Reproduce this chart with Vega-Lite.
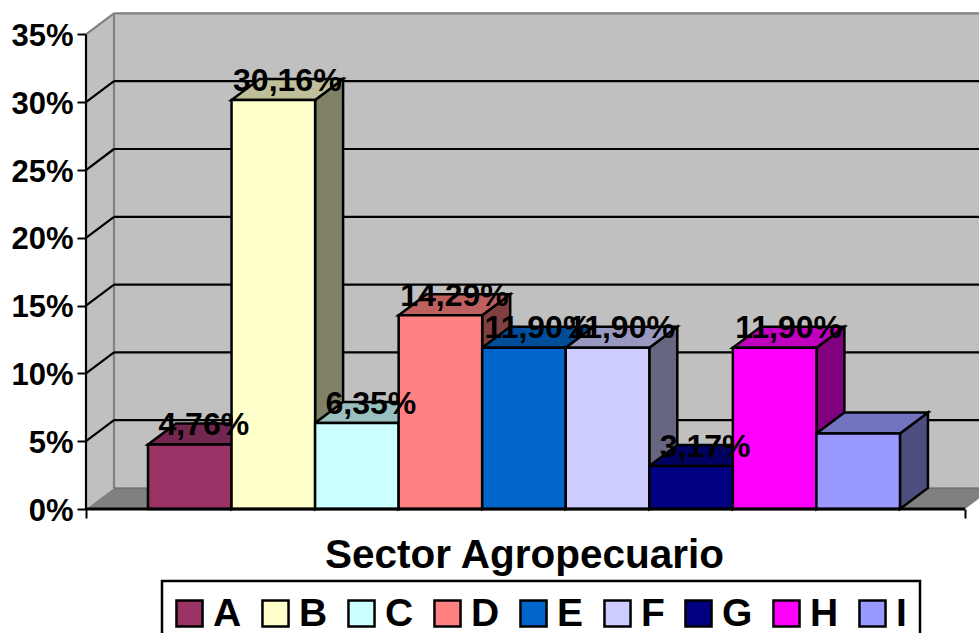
{
"$schema":"https://vega.github.io/schema/vega-lite/v6.json",
"width":893,"height":496,
"autosize":{"type":"none"},
"padding":{"left":86,"top":13,"right":0,"bottom":124},
"background":"white",
"config":{"view":{"stroke":null},"font":"Liberation Sans"},
"datasets":{
"bars":[
{"sector":"A","value":4.76,"label":"4,76%"},
{"sector":"B","value":30.16,"label":"30,16%"},
{"sector":"C","value":6.35,"label":"6,35%"},
{"sector":"D","value":14.29,"label":"14,29%"},
{"sector":"E","value":11.9,"label":"11,90%"},
{"sector":"F","value":11.9,"label":"11,90%"},
{"sector":"G","value":3.17,"label":"3,17%"},
{"sector":"H","value":11.9,"label":"11,90%"},
{"sector":"I","value":5.56,"label":""}
],
"grid":[{"v":5},{"v":10},{"v":15},{"v":20},{"v":25},{"v":30}],
"frame":[{"v":35}],
"base":[{"v":0}],
"ends":[{"d":0},{"d":1}]
},
"encoding":{
"x":{"field":"x","type":"quantitative","scale":{"domain":[-0.742,9.946],"nice":false,"zero":false},
"axis":{"values":[-0.742,9.78],"labels":false,"domain":false,"grid":false,"tickColor":"black","tickWidth":2,"tickSize":9,
"title":"Sector Agropecuario","titleFont":"Liberation Sans","titleFontSize":40.5,"titleFontWeight":"bold","titleColor":"black","titleX":438,"titleY":58,"titleBaseline":"alphabetic","titleAlign":"center"}},
"y":{"field":"y","type":"quantitative","stack":false,"scale":{"domain":[0,36.58],"nice":false,"zero":false},
"axis":{"values":[0,5,10,15,20,25,30,35],"labelExpr":"datum.value + '%'","domain":false,"grid":false,"tickColor":"black","tickWidth":2,"tickSize":9,"labelPadding":4,"labelOffset":2,
"labelFont":"Liberation Sans","labelFontSize":31,"labelFontWeight":"bold","labelColor":"black","title":null}}
},
"layer":[
{"data":{"name":"frame"},
"transform":[{"calculate":"-0.742+0.335","as":"x"},{"calculate":"9.946","as":"x2"},{"calculate":"1.55","as":"y"},{"calculate":"datum.v+1.55","as":"y2"}],
"mark":{"type":"rect","fill":"#C0C0C0"},
"encoding":{"x2":{"field":"x2"},"y2":{"field":"y2"}}},
{"data":{"name":"ends"},
"transform":[{"calculate":"-0.742+datum.d*0.335","as":"x"},{"calculate":"35+datum.d*1.55","as":"y"},{"calculate":"datum.d*1.55","as":"y2"}],
"mark":{"type":"area","orient":"vertical","fill":"#C0C0C0"},
"encoding":{"y2":{"field":"y2"}}},
{"data":{"name":"base"},
"transform":[{"calculate":"[0,1,2,3]","as":"k"},{"flatten":["k"]},
{"calculate":"[-0.742,-0.407,9.78,10.115][datum.k]","as":"x"},
{"calculate":"datum.k==0?0:1.55","as":"y"},{"calculate":"datum.k==3?1.55:0","as":"y2"}],
"mark":{"type":"area","orient":"vertical","fill":"#808080","clip":true},
"encoding":{"y2":{"field":"y2"}}},
{"data":{"name":"frame"},
"transform":[{"calculate":"-0.407","as":"x"},{"calculate":"-0.407","as":"x2"},{"calculate":"1.55","as":"y"},{"calculate":"datum.v+1.55","as":"y2"}],
"mark":{"type":"rule","color":"#808080","strokeWidth":2.2},
"encoding":{"x2":{"field":"x2"},"y2":{"field":"y2"}}},
{"data":{"name":"frame"},
"transform":[{"calculate":"-0.407","as":"x"},{"calculate":"9.946","as":"x2"},{"calculate":"datum.v+1.55","as":"y"}],
"mark":{"type":"rule","color":"#808080","strokeWidth":2.2},
"encoding":{"x2":{"field":"x2"}}},
{"data":{"name":"frame"},
"transform":[{"calculate":"-0.742","as":"x"},{"calculate":"-0.407","as":"x2"},{"calculate":"datum.v","as":"y"},{"calculate":"datum.v+1.55","as":"y2"}],
"mark":{"type":"rule","color":"#808080","strokeWidth":2.2},
"encoding":{"x2":{"field":"x2"},"y2":{"field":"y2"}}},
{"data":{"name":"base"},
"transform":[{"calculate":"-0.407","as":"x"},{"calculate":"9.946","as":"x2"},{"calculate":"datum.v+1.55","as":"y"}],
"mark":{"type":"rule","color":"#606060","strokeWidth":1},
"encoding":{"x2":{"field":"x2"}}},
{"data":{"name":"grid"},
"transform":[{"calculate":"-0.407","as":"x"},{"calculate":"9.946","as":"x2"},{"calculate":"datum.v+1.55","as":"y"}],
"mark":{"type":"rule","color":"black","strokeWidth":2.2},
"encoding":{"x2":{"field":"x2"}}},
{"data":{"name":"grid"},
"transform":[{"calculate":"-0.742","as":"x"},{"calculate":"-0.407","as":"x2"},{"calculate":"datum.v","as":"y"},{"calculate":"datum.v+1.55","as":"y2"}],
"mark":{"type":"rule","color":"black","strokeWidth":2.2},
"encoding":{"x2":{"field":"x2"},"y2":{"field":"y2"}}},
{"data":{"name":"bars"},
"transform":[{"calculate":"indexof('ABCDEFGHI',datum.sector)","as":"idx"},{"calculate":"[0,1]","as":"k"},{"flatten":["k"]},
{"calculate":"datum.idx+1+datum.k*0.335","as":"x"},{"calculate":"datum.value+datum.k*1.55","as":"y"},{"calculate":"datum.k*1.55","as":"y2"}],
"mark":{"type":"area","orient":"vertical","stroke":"black","strokeWidth":2.5,"strokeJoin":"miter"},
"encoding":{"y2":{"field":"y2"},"color":{"field":"sector","type":"nominal","legend":null,"scale":{"domain":["A","B","C","D","E","F","G","H","I"],"range":["#4D1A33","#808066","#668080","#804040","#003366","#666680","#000040","#800080","#4D4D80"]}}}},
{"data":{"name":"bars"},
"transform":[{"calculate":"indexof('ABCDEFGHI',datum.sector)","as":"idx"},{"calculate":"[0,1,2,3]","as":"k"},{"flatten":["k"]},
{"calculate":"datum.idx+[0,0.335,1,1.335][datum.k]","as":"x"},{"calculate":"datum.value+(datum.k==0?0:1.55)","as":"y"},{"calculate":"datum.value+(datum.k==3?1.55:0)","as":"y2"}],
"mark":{"type":"area","orient":"vertical","stroke":"black","strokeWidth":2.5,"strokeJoin":"miter"},
"encoding":{"y2":{"field":"y2"},"color":{"field":"sector","type":"nominal","legend":null,"scale":{"domain":["A","B","C","D","E","F","G","H","I"],"range":["#732650","#BFBF99","#99BFBF","#BF6060","#004D99","#9999BF","#000060","#BF00BF","#7373BF"]}}}},
{"data":{"name":"bars"},
"transform":[{"calculate":"indexof('ABCDEFGHI',datum.sector)","as":"x"},{"calculate":"datum.x+1","as":"x2"},{"calculate":"datum.value","as":"y"},{"calculate":"0","as":"y2"}],
"mark":{"type":"rect","stroke":"black","strokeWidth":2.5},
"encoding":{"x2":{"field":"x2"},"y2":{"field":"y2"},"color":{"field":"sector","type":"nominal","scale":{"domain":["A","B","C","D","E","F","G","H","I"],"range":["#993366","#FFFFCC","#CCFFFF","#FF8080","#0066CC","#CCCCFF","#000080","#FF00FF","#9999FF"]},
"legend":{"orient":"none","legendX":76,"legendY":568,"direction":"horizontal","columns":9,"gridAlign":"none","title":null,"padding":13,"fillColor":"white","strokeColor":"black","encode":{"legend":{"update":{"strokeWidth":{"value":2.5}}}},"symbolType":"square","symbolSize":680,"symbolStrokeColor":"black","symbolStrokeWidth":2.5,"symbolOffset":-5,"labelFont":"Liberation Sans","labelFontSize":39,"labelFontWeight":"bold","labelColor":"black","labelOffset":4,"columnPadding":15,"labelLimit":100}}}},
{"data":{"name":"base"},
"transform":[{"calculate":"-0.742","as":"x"},{"calculate":"9.78","as":"x2"},{"calculate":"datum.v","as":"y"}],
"mark":{"type":"rule","color":"black","strokeWidth":3},
"encoding":{"x2":{"field":"x2"}}},
{"data":{"name":"frame"},
"transform":[{"calculate":"-0.742","as":"x"},{"calculate":"0","as":"y"},{"calculate":"datum.v","as":"y2"}],
"mark":{"type":"rule","color":"black","strokeWidth":2.2},
"encoding":{"y2":{"field":"y2"}}},
{"data":{"name":"bars"},
"transform":[{"filter":"datum.label!=''"},{"calculate":"indexof('ABCDEFGHI',datum.sector)+0.5+0.1675","as":"x"},{"calculate":"datum.value+1.42","as":"y"}],
"mark":{"type":"text","font":"Liberation Sans","fontSize":32,"fontWeight":"bold","color":"black","align":"center","baseline":"middle"},
"encoding":{"text":{"field":"label"}}}
],
"resolve":{"scale":{"color":"independent"}}
}
